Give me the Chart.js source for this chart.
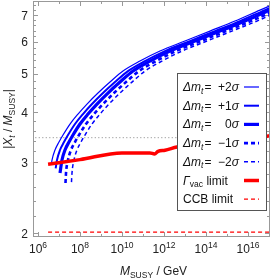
<!DOCTYPE html>
<html>
<head>
<meta charset="utf-8">
<script src="https://cdn.jsdelivr.net/npm/chart.js@4.4.1/dist/chart.umd.min.js"></script>
<style>
  html, body { margin: 0; padding: 0; background: #fff; }
  #wrap { width: 271px; height: 278px; }
</style>
</head>
<body>
<div id="wrap"><canvas id="xtChart" width="271" height="278"></canvas></div>
<script>
// curves: log10(M_SUSY/GeV) and |Xt/M_SUSY|
const logM_p2 = [6.644, 6.667, 6.810, 7.000, 7.191, 7.524, 7.905, 8.334, 8.857, 9.429, 10.048, 10.857, 11.810, 13.000, 14.191, 15.381, 16.572, 17.2];
const xt_p2   = [2.990, 3.043, 3.223, 3.374, 3.513, 3.742, 3.963, 4.198, 4.472, 4.763, 5.074, 5.374, 5.692, 6.029, 6.385, 6.763, 7.204, 7.44];
const logM_p1 = [6.842, 6.905, 7.048, 7.238, 7.429, 7.762, 8.143, 8.572, 9.095, 9.667, 10.286, 11.095, 12.048, 13.238, 14.429, 15.619, 16.810, 17.2];
const xt_p1   = [2.900, 3.043, 3.223, 3.374, 3.513, 3.742, 3.963, 4.198, 4.472, 4.763, 5.074, 5.374, 5.692, 6.029, 6.385, 6.763, 7.204, 7.35];
const logM_0  = [7.048, 7.143, 7.286, 7.476, 7.667, 8.000, 8.381, 8.810, 9.333, 9.905, 10.524, 11.333, 12.286, 13.476, 14.667, 15.857, 17.048, 17.2];
const xt_0    = [2.823, 3.043, 3.223, 3.374, 3.513, 3.742, 3.963, 4.198, 4.472, 4.763, 5.074, 5.374, 5.692, 6.029, 6.385, 6.763, 7.204, 7.26];
const logM_m1 = [7.310, 7.334, 7.429, 7.572, 7.762, 7.953, 8.286, 8.667, 9.096, 9.619, 10.191, 10.810, 11.619, 12.572, 13.762, 14.953, 16.143, 17.2];
const xt_m1   = [2.666, 2.823, 3.043, 3.223, 3.374, 3.513, 3.742, 3.963, 4.198, 4.472, 4.763, 5.074, 5.374, 5.692, 6.029, 6.385, 6.763, 7.15];
const logM_m2 = [7.595, 7.619, 7.714, 7.857, 8.047, 8.238, 8.571, 8.952, 9.381, 9.904, 10.476, 11.095, 11.904, 12.857, 14.047, 15.238, 16.428, 17.2];
const xt_m2   = [2.680, 2.823, 3.043, 3.223, 3.374, 3.513, 3.742, 3.963, 4.198, 4.472, 4.763, 5.074, 5.374, 5.692, 6.029, 6.385, 6.763, 7.05];

// vacuum decay rate limit and CCB limit
const logM_vac = [6.48, 8.0, 10.0, 10.86, 11.33, 11.55, 11.72, 12.05, 12.62, 14.0, 15.5, 16.9, 17.2];
const xt_vac   = [2.97, 3.05, 3.17, 3.17, 3.17, 3.15, 3.20, 3.22, 3.28, 3.35, 3.42, 3.49, 3.51];
const logM_ccb = [6.48, 17.2];
const xt_ccb   = [2.01, 2.01];

// dotted reference line
const logM_ref = [5.7, 17.2];
const xt_ref   = [3.46, 3.46];

// axis ticks
const xTickExps = [6, 8, 10, 12, 14, 16];
const xMinorExps = [7, 9, 11, 13, 15, 17];
const yTickLabels = [2, 3, 4, 5, 6, 7];

const BLUE = "rgb(0,0,255)";
const RED = "rgb(255,0,0)";
const FONT = "'Liberation Sans', Arial, sans-serif";

function pts(lm, v) {
	return lm.map((e, i) => ({ x: Math.pow(10, e), y: v[i] }));
}

// width of a list of text pieces
function richWidth(ctx, parts) {
	let w = 0;
	for (let p of parts) {
		ctx.font = (p.it ? "italic " : "") + p.size + "px " + FONT;
		w += ctx.measureText(p.t).width;
	}
	return w;
}
// draws text pieces side by side, returns end x
function drawRich(ctx, parts, x, y) {
	for (let p of parts) {
		ctx.font = (p.it ? "italic " : "") + p.size + "px " + FONT;
		ctx.fillText(p.t, x, y + (p.dy || 0));
		x += ctx.measureText(p.t).width;
	}
	return x;
}

const legendItems = [
	{ val: "+2", color: BLUE, width: 1.2, dash: [] },
	{ val: "+1", color: BLUE, width: 2, dash: [] },
	{ val: "0", color: BLUE, width: 3.2, dash: [] },
	{ val: "\u22121", color: BLUE, width: 2.6, dash: [4, 3] },
	{ val: "\u22122", color: BLUE, width: 1.5, dash: [4, 3] },
	{ label: "vac", color: RED, width: 3.5, dash: [] },
	{ label: "ccb", color: RED, width: 1.3, dash: [4, 3] },
];

const framePlugin = {
	id: "framePlugin",
	beforeDatasetsDraw(chart) {
		const { ctx, chartArea: a, scales } = chart;
		const x = scales.x, y = scales.y;
		ctx.save();
		ctx.strokeStyle = "#999";
		ctx.lineWidth = 1;
		ctx.beginPath();
		// x ticks, bottom and top
		for (let e of xTickExps.concat(xMinorExps)) {
			const px = Math.round(x.getPixelForValue(Math.pow(10, e))) + 0.5;
			if (px > a.right) continue;
			const len = xTickExps.includes(e) ? 5 : 3;
			ctx.moveTo(px, a.bottom); ctx.lineTo(px, a.bottom - len);
			ctx.moveTo(px, a.top); ctx.lineTo(px, a.top + len);
		}
		// y ticks, left and right
		for (let k = 0; k <= 28; k++) {
			const v = 2 + k * 0.2;
			const py = Math.round(y.getPixelForValue(v)) + 0.5;
			if (py < a.top) continue;
			const len = k % 5 === 0 ? 5 : 3;
			ctx.moveTo(a.left, py); ctx.lineTo(a.left + len, py);
			ctx.moveTo(a.right, py); ctx.lineTo(a.right - len, py);
		}
		ctx.stroke();
		ctx.restore();
	},
	afterDatasetsDraw(chart) {
		const { ctx, chartArea: a, scales } = chart;
		const x = scales.x, y = scales.y;
		ctx.save();
		// frame
		ctx.strokeStyle = "#999";
		ctx.lineWidth = 1;
		ctx.strokeRect(a.left + 0.5, a.top + 0.5, a.right - a.left - 1, a.bottom - a.top - 1);

		// tick labels
		ctx.fillStyle = "#222";
		ctx.textBaseline = "alphabetic";
		ctx.textAlign = "right";
		ctx.font = "12px " + FONT;
		for (let v of yTickLabels) {
			ctx.fillText(String(v), a.left - 5, y.getPixelForValue(v) + 4.5);
		}
		ctx.textAlign = "left";
		for (let e of xTickExps) {
			const px = x.getPixelForValue(Math.pow(10, e));
			const parts = [{ t: "10", size: 12 }, { t: String(e), size: 8.5, dy: -5 }];
			drawRich(ctx, parts, px - richWidth(ctx, parts) / 2, 253);
		}

		// x title
		const xt = [
			{ t: "M", size: 12, it: true },
			{ t: "SUSY", size: 8.5, dy: 2.5 },
			{ t: " / GeV", size: 12 },
		];
		drawRich(ctx, xt, (a.left + a.right) / 2 - richWidth(ctx, xt) / 2 + 2, 275);

		// y title
		ctx.save();
		ctx.translate(12, (a.top + a.bottom) / 2);
		ctx.rotate(-Math.PI / 2);
		const yt = [
			{ t: "|", size: 12 },
			{ t: "X", size: 12, it: true },
			{ t: "t", size: 8.5, dy: 2.5, it: true },
			{ t: " / ", size: 12 },
			{ t: "M", size: 12, it: true },
			{ t: "SUSY", size: 8.5, dy: 2.5 },
			{ t: "|", size: 12 },
		];
		drawRich(ctx, yt, -richWidth(ctx, yt) / 2, 0);
		ctx.restore();

		// legend box
		ctx.fillStyle = "#fff";
		ctx.fillRect(177.5, 73.5, 89, 137);
		ctx.strokeStyle = "#555";
		ctx.strokeRect(177.5, 73.5, 89, 137);

		ctx.fillStyle = "#111";
		legendItems.forEach((it, i) => {
			const cy = 87 + i * 18.7;
			const base = cy + 4;
			if (it.val !== undefined) {
				let xe = drawRich(ctx, [
					{ t: "\u0394", size: 12, it: true },
					{ t: "m", size: 12, it: true },
					{ t: "t", size: 8.5, it: true, dy: 2.5 },
				], 183, base);
				drawRich(ctx, [{ t: "=", size: 12 }], xe + 1, base);
				const vp = [{ t: it.val, size: 12 }, { t: "\u03c3", size: 12, it: true }];
				drawRich(ctx, vp, 239 - richWidth(ctx, vp), base);
			} else if (it.label === "vac") {
				drawRich(ctx, [
					{ t: "\u0393", size: 12, it: true },
					{ t: "vac", size: 8.5, dy: 2.5 },
					{ t: " limit", size: 12 },
				], 183, base);
			} else {
				drawRich(ctx, [{ t: "CCB limit", size: 12 }], 183, base);
			}
			ctx.save();
			ctx.strokeStyle = it.color;
			ctx.lineWidth = it.width;
			ctx.setLineDash(it.dash);
			ctx.beginPath();
			ctx.moveTo(244, cy);
			ctx.lineTo(259, cy);
			ctx.stroke();
			ctx.restore();
		});
		ctx.restore();
	},
};

function curve(label, lm, v, color, width, dash) {
	return {
		label: label,
		data: pts(lm, v),
		showLine: true,
		borderColor: color,
		borderWidth: width,
		borderDash: dash,
		pointRadius: 0,
		cubicInterpolationMode: "monotone",
		clip: 0,
	};
}

const ctx = document.getElementById("xtChart").getContext("2d");
const chart = new Chart(ctx, {
	type: "scatter",
	data: {
		datasets: [
			curve("CCB limit", logM_ccb, xt_ccb, RED, 1.3, [4, 3]),
			curve("vac limit", logM_vac, xt_vac, RED, 3.5, []),
			curve("+2", logM_p2, xt_p2, BLUE, 1.2, []),
			curve("+1", logM_p1, xt_p1, BLUE, 2, []),
			curve("0", logM_0, xt_0, BLUE, 3.2, []),
			curve("-1", logM_m1, xt_m1, BLUE, 2.6, [4, 3]),
			curve("-2", logM_m2, xt_m2, BLUE, 1.5, [4, 3]),
			curve("ref", logM_ref, xt_ref, "#999", 1, [1.2, 2.3]),
		],
	},
	options: {
		responsive: false,
		animation: false,
		devicePixelRatio: 1,
		layout: { padding: { left: 33, right: 1, top: 1, bottom: 41 } },
		plugins: { legend: { display: false }, tooltip: { enabled: false } },
		scales: {
			x: {
				type: "logarithmic",
				display: false,
				min: Math.pow(10, 5.762),
				max: Math.pow(10, 17.05),
			},
			y: {
				type: "logarithmic",
				display: false,
				min: 1.955,
				max: 7.59,
			},
		},
	},
	plugins: [framePlugin],
});
</script>
</body>
</html>
